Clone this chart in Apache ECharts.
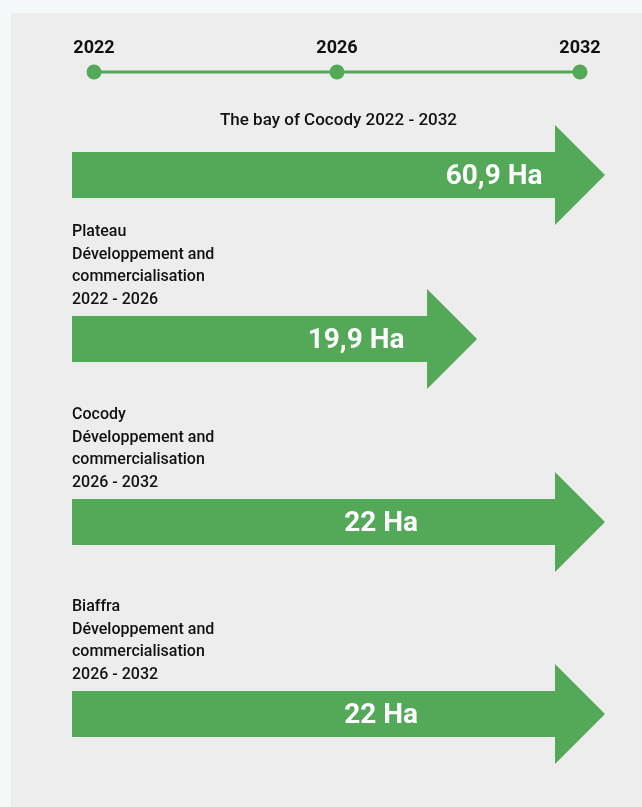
<!DOCTYPE html>
<html>
<head>
<meta charset="utf-8">
<script src="https://cdn.jsdelivr.net/npm/echarts@6/dist/echarts.min.js"></script>
<style>
html,body{margin:0;padding:0;background:#f4f8f9;}
#c{width:642px;height:807px;}
</style>
</head>
<body>
<div id="c"></div>
<script>
// ---- data ----
const years = ['2022', '2026', '2032'];
const descriptions = [
  'The bay of Cocody 2022 - 2032',
  'Plateau\nDéveloppement and\ncommercialisation\n2022 - 2026',
  'Cocody\nDéveloppement and\ncommercialisation\n2026 - 2032',
  'Biaffra\nDéveloppement and\ncommercialisation\n2026 - 2032'
];
const areaLabels = ['60,9 Ha', '19,9 Ha', '22 Ha', '22 Ha'];
const arrowStart = [0, 0, 0, 0];
const arrowEnd = [100, 76, 100, 100];
const labelAt = [79.2, 53.3, 58, 58];

// ---- layout ----
const FONT = "Roboto, 'Noto Sans', sans-serif";
const GREEN = '#53a957';
const arrowCenters = [175, 339, 522, 714];

const chart = echarts.init(document.getElementById('c'), null, {renderer: 'canvas'});

const grids = [{left: 94, right: 62, top: 62, height: 20}];
const xAxes = [{gridIndex: 0, type: 'category', data: years, boundaryGap: false, show: false}];
const yAxes = [{gridIndex: 0, type: 'value', min: -1, max: 1, show: false}];
const series = [{
  type: 'line', xAxisIndex: 0, yAxisIndex: 0,
  data: years.map(() => 0),
  symbol: 'circle', symbolSize: 15,
  lineStyle: {color: GREEN, width: 3},
  itemStyle: {color: GREEN},
  label: {show: true, position: 'top', distance: 7,
    formatter: p => years[p.dataIndex],
    fontFamily: FONT, fontWeight: 'bold', fontSize: 18, color: '#111'},
  silent: true, animation: false
}];

arrowCenters.forEach((cy, i) => {
  const g = i + 1;
  grids.push({left: 72, right: 37, top: cy - 50, height: 100});
  xAxes.push({gridIndex: g, type: 'value', min: 0, max: 100, show: false});
  yAxes.push({gridIndex: g, type: 'value', min: -1, max: 1, show: false});
  series.push({
    type: 'custom', xAxisIndex: g, yAxisIndex: g,
    data: [[arrowStart[i], arrowEnd[i], labelAt[i]]],
    animation: false, silent: true,
    renderItem: function (params, api) {
      const s = api.coord([api.value(0), 0]);
      const e = api.coord([api.value(1), 0]);
      const lp = api.coord([api.value(2), 0]);
      const mid = api.coord([50, 0]);
      const y = s[1];
      const hl = 50, bh = 23, hh = 50;
      const pts = [[s[0], y - bh], [e[0] - hl, y - bh], [e[0] - hl, y - hh], [e[0], y],
                   [e[0] - hl, y + hh], [e[0] - hl, y + bh], [s[0], y + bh]];
      const children = [
        {type: 'polygon', shape: {points: pts}, style: {fill: GREEN}},
        {type: 'text', style: {x: lp[0], y: y + 2, text: areaLabels[i], fill: '#fff',
          font: 'bold 28px ' + FONT, align: 'center', verticalAlign: 'middle'}}
      ];
      if (i === 0) {
        children.push({type: 'text', style: {x: mid[0], y: y - 54, text: descriptions[i],
          fill: '#111', font: '500 17px ' + FONT, align: 'center', verticalAlign: 'middle'}});
      } else {
        children.push({type: 'text', style: {x: s[0], y: y - 28, text: descriptions[i],
          fill: '#111', font: '500 16px ' + FONT, lineHeight: 22.5, align: 'left', verticalAlign: 'bottom'}});
      }
      return {type: 'group', children: children};
    }
  });
});

chart.setOption({
  animation: false,
  graphic: [{type: 'rect', left: 11, top: 13, shape: {width: 640, height: 800}, style: {fill: '#ededed'}, z: -10}],
  grid: grids, xAxis: xAxes, yAxis: yAxes, series: series
});
</script>
</body>
</html>
